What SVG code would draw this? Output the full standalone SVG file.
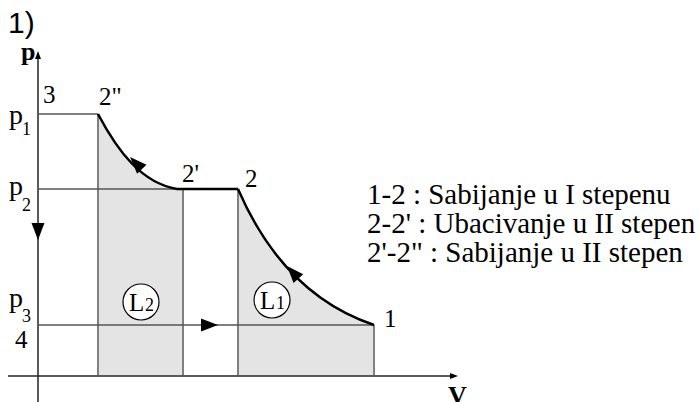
<svg xmlns="http://www.w3.org/2000/svg" width="699" height="402" viewBox="0 0 699 402">
<style>
.t{font-family:"Liberation Serif","Times New Roman",serif;fill:#000}
.ax{stroke:#222;stroke-width:1.5;fill:none}
.gl{stroke:#555;stroke-width:1.5;fill:none}
.th{stroke:#000;stroke-width:2.5;fill:none}
.sh{fill:#e4e4e4;stroke:none}
.ah{fill:#000}
</style>
<defs>
<path id="ah" d="M0,0 L-17,-6.5 L-17,6.5 Z"/>
<path id="axh" d="M0,0 L-8,-3 L-8,3 Z"/>
</defs>
<rect width="699" height="402" fill="#fff"/>
<text x="8" y="33" font-family="Liberation Sans,Arial,sans-serif" font-size="30">1)</text>
<g id="shading">
<path class="sh" d="M99,116 C118,152 142,183 177,190 L182,190 L182,375 L99,375 Z"/>
<path class="sh" d="M239,191 C261,240 300,300 373,326 L373,375 L239,375 Z"/>
</g>
<g id="connectors">
<line class="ax" x1="38" y1="55" x2="38" y2="402"/>
<use href="#axh" class="ah" transform="translate(38,51) rotate(-90)"/>
<line class="ax" x1="8" y1="376" x2="452" y2="376"/>
<use href="#axh" class="ah" transform="translate(458,376)"/>
<line class="gl" x1="38" y1="114" x2="98" y2="114"/>
<line class="gl" x1="38" y1="189" x2="238" y2="189"/>
<line class="gl" x1="38" y1="325" x2="374" y2="325"/>
<line class="gl" x1="98" y1="114" x2="98" y2="376"/>
<line class="gl" x1="183" y1="189" x2="183" y2="376"/>
<line class="gl" x1="238" y1="189" x2="238" y2="376"/>
<line class="gl" x1="374" y1="325" x2="374" y2="376"/>
<path class="th" d="M98,114 C118,152 142,183 177,189 L238,189"/>
<path class="th" d="M238,189 C260,240 300,300 374,325"/>
<use href="#ah" class="ah" transform="translate(130,157) rotate(-134)"/>
<use href="#ah" class="ah" transform="translate(287,266) rotate(-132)"/>
<use href="#ah" class="ah" transform="translate(218,325)"/>
<use href="#ah" class="ah" transform="translate(38,240) rotate(90)"/>
</g>
<g id="axis-labels">
<text class="t" x="21" y="60" font-size="26" font-weight="bold">p</text>
<text class="t" x="448" y="404" font-size="26" font-weight="bold">V</text>
</g>
<g id="p1"><text class="t" x="9" y="124" font-size="28">p</text><text class="t" x="22" y="135" font-size="18">1</text></g>
<g id="p2"><text class="t" x="9" y="195" font-size="28">p</text><text class="t" x="22" y="211" font-size="18">2</text></g>
<g id="p3"><text class="t" x="9" y="307" font-size="28">p</text><text class="t" x="22" y="322" font-size="18">3</text></g>
<g id="n4"><text class="t" x="15" y="348" font-size="25">4</text></g>
<g id="n3"><text class="t" x="43" y="103" font-size="25">3</text></g>
<g id="n2pp"><text class="t" x="99" y="105" font-size="25">2"</text></g>
<g id="n2p"><text class="t" x="182" y="182" font-size="25">2'</text></g>
<g id="n2"><text class="t" x="245" y="187" font-size="25">2</text></g>
<g id="n1"><text class="t" x="384" y="327" font-size="25">1</text></g>
<g id="L2"><circle cx="141" cy="302" r="18" fill="#fff" stroke="#000" stroke-width="1.2"/><text class="t" x="129" y="311" font-size="25">L</text><text class="t" x="145" y="311" font-size="18">2</text></g>
<g id="L1"><circle cx="272" cy="300" r="18" fill="#fff" stroke="#000" stroke-width="1.2"/><text class="t" x="260" y="309" font-size="25">L</text><text class="t" x="276" y="309" font-size="18">1</text></g>
<g id="legend">
<text class="t" x="367" y="204" font-size="29">1-2 : Sabijanje u I stepenu</text>
<text class="t" x="367" y="233" font-size="29">2-2' : Ubacivanje u II stepen</text>
<text class="t" x="367" y="262" font-size="29">2'-2" : Sabijanje u II stepen</text>
</g>
</svg>
